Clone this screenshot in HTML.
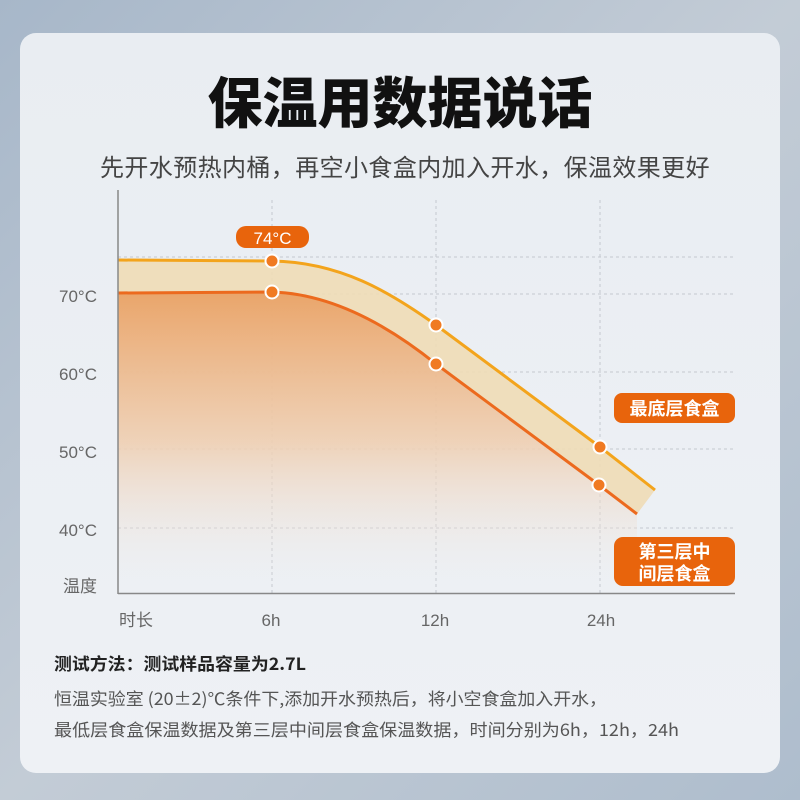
<!DOCTYPE html>
<html><head><meta charset="utf-8"><style>
html,body{margin:0;padding:0;width:800px;height:800px;overflow:hidden;}
body{background:linear-gradient(135deg,#a7b7c9 0%,#c3ccd6 50%,#aebdcd 100%);font-family:"Liberation Sans","Noto Sans CJK SC",sans-serif;}
</style></head><body>
<svg width="800" height="800" viewBox="0 0 800 800" xmlns="http://www.w3.org/2000/svg" style="position:absolute;left:0;top:0">
<defs>
<linearGradient id="card" x1="0" y1="0" x2="0" y2="1"><stop offset="0" stop-color="#e9edf2"/><stop offset="1" stop-color="#eef1f5"/></linearGradient>
<linearGradient id="fillLow" x1="0" y1="0" x2="0" y2="1"><stop offset="0" stop-color="#eaa56a"/><stop offset="0.5" stop-color="#efcfb2" stop-opacity="0.9"/><stop offset="1" stop-color="#eef0f3" stop-opacity="0"/></linearGradient>
</defs>
<rect x="20" y="33" width="760" height="740" rx="16" fill="url(#card)"/>
<text x="400" y="123" text-anchor="middle" font-family="Noto Sans CJK SC,sans-serif" font-weight="900" font-size="55" fill="#111">保温用数据说话</text>
<text x="405" y="176" text-anchor="middle" font-family="Noto Sans CJK SC,sans-serif" font-size="24" fill="#444" letter-spacing="0.4">先开水预热内桶，再空小食盒内加入开水，保温效果更好</text>
<g stroke="#c4c8cf" stroke-width="1" stroke-dasharray="3,3">
<line x1="118" y1="257" x2="735" y2="257"/><line x1="118" y1="294" x2="735" y2="294"/>
<line x1="118" y1="372" x2="735" y2="372"/><line x1="118" y1="449" x2="735" y2="449"/>
<line x1="118" y1="528" x2="735" y2="528"/>
<line x1="272" y1="200" x2="272" y2="593"/><line x1="436" y1="200" x2="436" y2="593"/><line x1="600" y1="200" x2="600" y2="593"/>
</g>
<path d="M118,260 L272,261 C340,262 390,292 436,325 L600,447 L655,490 L637,514 L599,485 L436,364 C400,335 340,294 272,292 L118,293 Z" fill="#f0dcb6" opacity="0.9"/>
<path d="M118,293 L272,292 C340,294 400,335 436,364 L599,485 L637,514 L637,593 L118,593 Z" fill="url(#fillLow)"/>
<path d="M118,260 L272,261 C340,262 390,292 436,325 L600,447 L655,490" fill="none" stroke="#f3a41c" stroke-width="3"/>
<path d="M118,293 L272,292 C340,294 400,335 436,364 L599,485 L637,514" fill="none" stroke="#ec6a1e" stroke-width="3"/>
<line x1="118" y1="190" x2="118" y2="594" stroke="#888" stroke-width="1.5"/>
<line x1="118" y1="593.5" x2="735" y2="593.5" stroke="#888" stroke-width="1.5"/>
<g fill="#f07a22" stroke="#fff" stroke-width="2">
<circle cx="272" cy="261" r="6.5"/><circle cx="272" cy="292" r="6.5"/>
<circle cx="436" cy="325" r="6.5"/><circle cx="436" cy="364" r="6.5"/>
<circle cx="600" cy="447" r="6.5"/><circle cx="599" cy="485" r="6.5"/>
</g>
<rect x="236" y="226" width="73" height="22" rx="10" fill="#e8640c"/>
<text x="272.5" y="244" text-anchor="middle" font-size="17" fill="#fff">74°C</text>
<rect x="614" y="393" width="121" height="30" rx="8" fill="#e8640c"/>
<text x="674.5" y="415" text-anchor="middle" font-family="Noto Sans CJK SC,sans-serif" font-weight="bold" font-size="18" fill="#fff">最底层食盒</text>
<rect x="614" y="537" width="121" height="49" rx="9" fill="#e8640c"/>
<text x="674.5" y="558" text-anchor="middle" font-family="Noto Sans CJK SC,sans-serif" font-weight="bold" font-size="18" fill="#fff">第三层中</text>
<text x="674.5" y="580" text-anchor="middle" font-family="Noto Sans CJK SC,sans-serif" font-weight="bold" font-size="18" fill="#fff">间层食盒</text>
<g font-size="17" fill="#666" text-anchor="end">
<text x="97" y="302">70°C</text><text x="97" y="380">60°C</text>
<text x="97" y="458">50°C</text><text x="97" y="536">40°C</text>
<text x="97" y="592" font-family="Noto Sans CJK SC,sans-serif">温度</text>
</g>
<g font-size="17" fill="#666" text-anchor="middle">
<text x="136" y="626" font-family="Noto Sans CJK SC,sans-serif">时长</text>
<text x="271" y="626">6h</text><text x="435" y="626">12h</text><text x="601" y="626">24h</text>
</g>
<text x="54" y="670" font-family="Noto Sans CJK SC,sans-serif" font-weight="bold" font-size="17" fill="#222" textLength="252" lengthAdjust="spacingAndGlyphs">测试方法：测试样品容量为2.7L</text>
<text x="54" y="705" font-family="Noto Sans CJK SC,sans-serif" font-size="17" fill="#555" textLength="553" lengthAdjust="spacingAndGlyphs">恒温实验室 (20±2)℃条件下,添加开水预热后，将小空食盒加入开水，</text>
<text x="54" y="736" font-family="Noto Sans CJK SC,sans-serif" font-size="17" fill="#555" textLength="625" lengthAdjust="spacingAndGlyphs">最低层食盒保温数据及第三层中间层食盒保温数据，时间分别为6h，12h，24h</text>
</svg>
</body></html>
